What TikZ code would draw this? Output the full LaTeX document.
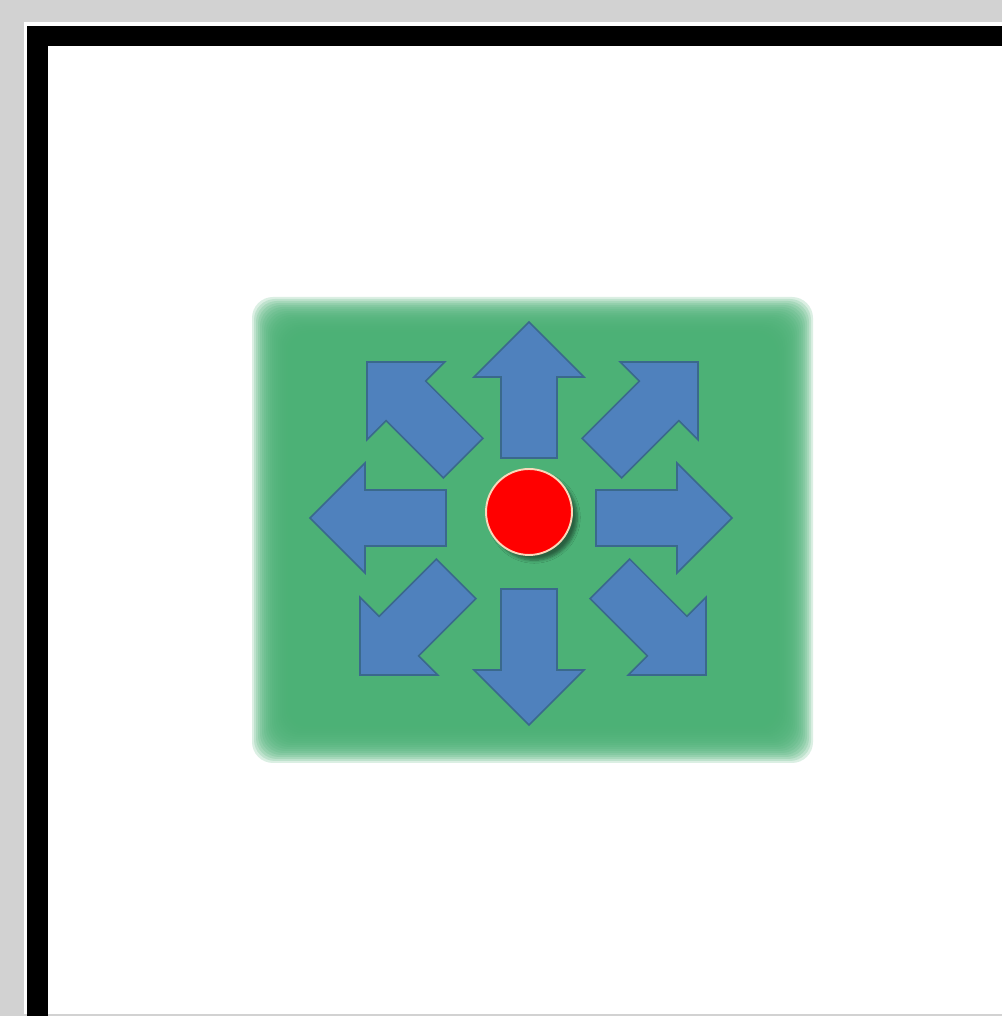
\documentclass[tikz,border=0pt]{standalone}
\usetikzlibrary{shadows.blur}
\definecolor{pagegray}{RGB}{210,210,210}
\definecolor{padgreen}{RGB}{76,177,118}
\definecolor{arrowblue}{RGB}{79,129,189}
\definecolor{arrowedge}{RGB}{58,105,140}
\definecolor{dotrim}{RGB}{250,215,185}
\tikzset{
  exitarrow/.style={fill=arrowblue, draw=arrowedge, line width=0.9pt, line join=miter},
  dotstyle/.style={circle, fill=red, draw=dotrim, line width=1.1pt, minimum size=1.72cm, inner sep=0pt,
    blur shadow={shadow xshift=3pt, shadow yshift=-3pt, shadow blur steps=6, shadow opacity=45}}
}
\begin{document}
\begin{tikzpicture}[x=0.02cm, y=0.02cm]
  \useasboundingbox (0,0) rectangle (1002,1016);
  % Page
  \fill[pagegray] (0,0) rectangle (1002,1016);
  \fill[white] (24,2) rectangle (1002,994);
  % Frame
  \fill[black] (27,0) rectangle (48,990);
  \fill[black] (27,970) rectangle (1002,990);
  % Green pad, soft edges
  \foreach \i in {0,...,19}
    \fill[padgreen, fill opacity=0.2, rounded corners=12] (252+2*\i,253+2*\i) rectangle (813-2*\i,719-2*\i);
  \fill[padgreen, fill opacity=0.6, rounded corners=6] (292,293) rectangle (773,679);
  % Arrows: tip and direction
  \foreach \tx/\ty/\ang in {529/694/90, 529/291/270, 310/498/180, 732/498/0,
                            367/654/135, 698/654/45, 360/341/225, 706/341/315}
    \draw[exitarrow, shift={(\tx,\ty)}, rotate=\ang]
      (0,0) -- (-55,55) -- (-55,28) -- (-136,28) -- (-136,-28) -- (-55,-28) -- (-55,-55) -- cycle;
  % Red dot
  \node[dotstyle] (dot) at (529,504) {};
\end{tikzpicture}
\end{document}
